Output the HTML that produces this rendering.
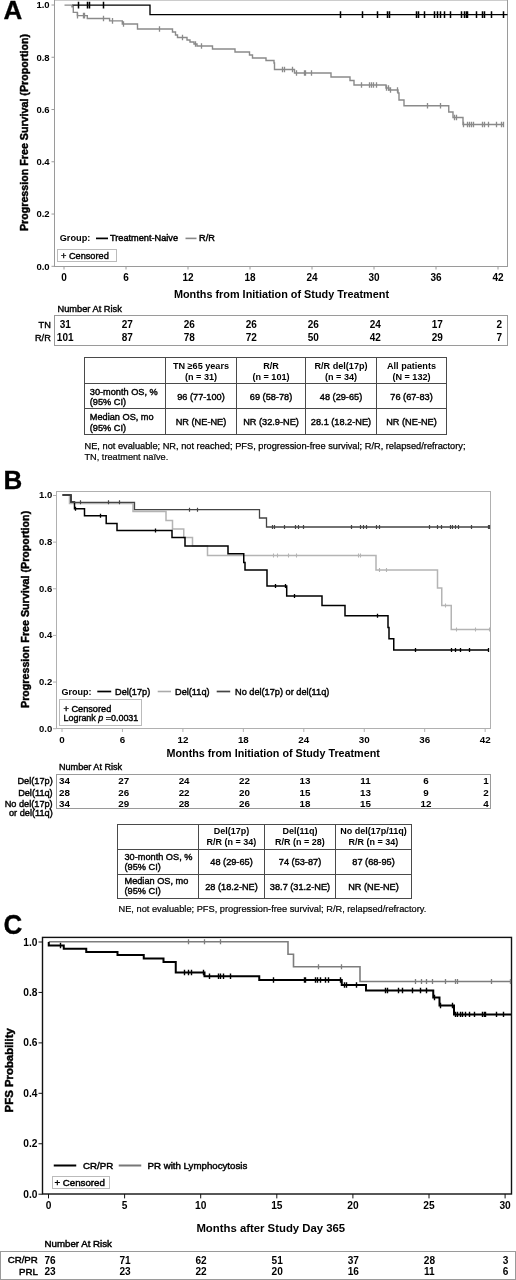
<!DOCTYPE html>
<html><head><meta charset="utf-8"><title>Figure</title>
<style>html,body{margin:0;padding:0;background:#fff;overflow:hidden;width:516px;height:1280px}svg{display:block}text{font-family:'Liberation Sans', Arial, Helvetica, sans-serif}</style>
</head><body>
<svg width="516" height="1280" viewBox="0 0 516 1280">
<rect x="0" y="0" width="516" height="1280" fill="#fff"/>
<text x="0" y="0" font-size="26" font-weight="bold" text-anchor="start" fill="#000" transform="translate(3.4,18.7) scale(1,1.02)" stroke="#000" stroke-width="0.3">A</text>
<rect x="54.5" y="0" width="453" height="266.5" stroke="#9a9a9a" stroke-width="1" fill="none"/>
<line x1="51.5" y1="266.3" x2="54.5" y2="266.3" stroke="#9a9a9a" stroke-width="1" />
<text x="49.6" y="269.7" font-size="9.5" font-weight="bold" text-anchor="end" fill="#000" >0.0</text>
<line x1="51.5" y1="214.04000000000002" x2="54.5" y2="214.04000000000002" stroke="#9a9a9a" stroke-width="1" />
<text x="49.6" y="217.44000000000003" font-size="9.5" font-weight="bold" text-anchor="end" fill="#000" >0.2</text>
<line x1="51.5" y1="161.78" x2="54.5" y2="161.78" stroke="#9a9a9a" stroke-width="1" />
<text x="49.6" y="165.18" font-size="9.5" font-weight="bold" text-anchor="end" fill="#000" >0.4</text>
<line x1="51.5" y1="109.52000000000001" x2="54.5" y2="109.52000000000001" stroke="#9a9a9a" stroke-width="1" />
<text x="49.6" y="112.92000000000002" font-size="9.5" font-weight="bold" text-anchor="end" fill="#000" >0.6</text>
<line x1="51.5" y1="57.25999999999999" x2="54.5" y2="57.25999999999999" stroke="#9a9a9a" stroke-width="1" />
<text x="49.6" y="60.65999999999999" font-size="9.5" font-weight="bold" text-anchor="end" fill="#000" >0.8</text>
<line x1="51.5" y1="5.0" x2="54.5" y2="5.0" stroke="#9a9a9a" stroke-width="1" />
<text x="49.6" y="8.4" font-size="9.5" font-weight="bold" text-anchor="end" fill="#000" >1.0</text>
<line x1="64.0" y1="266.5" x2="64.0" y2="269.5" stroke="#9a9a9a" stroke-width="1" />
<text x="64.0" y="280.6" font-size="10" font-weight="bold" text-anchor="middle" fill="#000" >0</text>
<line x1="126.0" y1="266.5" x2="126.0" y2="269.5" stroke="#9a9a9a" stroke-width="1" />
<text x="126.0" y="280.6" font-size="10" font-weight="bold" text-anchor="middle" fill="#000" >6</text>
<line x1="188.0" y1="266.5" x2="188.0" y2="269.5" stroke="#9a9a9a" stroke-width="1" />
<text x="188.0" y="280.6" font-size="10" font-weight="bold" text-anchor="middle" fill="#000" >12</text>
<line x1="250.0" y1="266.5" x2="250.0" y2="269.5" stroke="#9a9a9a" stroke-width="1" />
<text x="250.0" y="280.6" font-size="10" font-weight="bold" text-anchor="middle" fill="#000" >18</text>
<line x1="312.0" y1="266.5" x2="312.0" y2="269.5" stroke="#9a9a9a" stroke-width="1" />
<text x="312.0" y="280.6" font-size="10" font-weight="bold" text-anchor="middle" fill="#000" >24</text>
<line x1="374.0" y1="266.5" x2="374.0" y2="269.5" stroke="#9a9a9a" stroke-width="1" />
<text x="374.0" y="280.6" font-size="10" font-weight="bold" text-anchor="middle" fill="#000" >30</text>
<line x1="436.0" y1="266.5" x2="436.0" y2="269.5" stroke="#9a9a9a" stroke-width="1" />
<text x="436.0" y="280.6" font-size="10" font-weight="bold" text-anchor="middle" fill="#000" >36</text>
<line x1="498.0" y1="266.5" x2="498.0" y2="269.5" stroke="#9a9a9a" stroke-width="1" />
<text x="498.0" y="280.6" font-size="10" font-weight="bold" text-anchor="middle" fill="#000" >42</text>
<text x="0" y="0" font-size="10.7" font-weight="bold" text-anchor="middle" fill="#000" transform="translate(28,132.5) rotate(-90)" stroke="#000" stroke-width="0.45">Progression Free Survival (Proportion)</text>
<text x="281.5" y="298.3" font-size="10.85" font-weight="bold" text-anchor="middle" fill="#000" >Months from Initiation of Study Treatment</text>
<text x="59.7" y="241.4" font-size="9.2" font-weight="bold" text-anchor="start" fill="#000" >Group:</text>
<line x1="96" y1="238.4" x2="108" y2="238.4" stroke="#000" stroke-width="1.7" />
<text x="110" y="241.4" font-size="9.2" font-weight="normal" text-anchor="start" fill="#000" stroke="#000" stroke-width="0.45">Treatment-Naive</text>
<line x1="185.5" y1="238.4" x2="196.5" y2="238.4" stroke="#888" stroke-width="1.6" />
<text x="199" y="241.4" font-size="9.2" font-weight="normal" text-anchor="start" fill="#000" stroke="#000" stroke-width="0.45">R/R</text>
<rect x="57.5" y="249.5" width="59" height="12" stroke="#bbb" stroke-width="1" fill="none"/>
<text x="61" y="259" font-size="9.2" font-weight="normal" text-anchor="start" fill="#000" stroke="#000" stroke-width="0.4">+ Censored</text>
<path d="M72 5.1 H150 V14.6 H507.5" fill="none" stroke="#000" stroke-width="1.35" stroke-linejoin="miter"/>
<path d="M78.5 1.7999999999999998V8.399999999999999M87.5 1.7999999999999998V8.399999999999999M89.5 1.7999999999999998V8.399999999999999M103.5 1.7999999999999998V8.399999999999999" fill="none" stroke="#000" stroke-width="1.5"/>
<path d="M340.5 11.3V17.9M362.5 11.3V17.9M377.5 11.3V17.9M387.5 11.3V17.9M389.5 11.3V17.9M416.5 11.3V17.9M418.5 11.3V17.9M424.5 11.3V17.9M434.5 11.3V17.9M437.5 11.3V17.9M440.5 11.3V17.9M444.5 11.3V17.9M450.5 11.3V17.9M461.5 11.3V17.9M464.5 11.3V17.9M466.5 11.3V17.9M467.5 11.3V17.9M476.5 11.3V17.9M482.5 11.3V17.9M484.5 11.3V17.9M491.5 11.3V17.9M503.5 11.3V17.9" fill="none" stroke="#000" stroke-width="1.5"/>
<path d="M64.5 5.1 H72 V6.8 H73.3 V12.4 H77.4 V15.6 H87.3 V18.5 H109.6 V20.9 H122.3 V24 H137.5 V29 H172.5 V32 H175.5 V35 H177.5 V37.5 H187 V40 H190 V42 H194 V44 H197 V46 H212.5 V49 H235 V52 H249.5 V55 H252.5 V58 H266 V60.5 H274 V63 H274.5 V69.5 H294.5 V73 H331 V77 H350 V80.5 H354 V85 H386 V88 H389 V90 H398 V93 H399 V100 H404 V105.75 H448.75 V112 H453 V117.5 H463 V124.5 H503" fill="none" stroke="#8a8a8a" stroke-width="1.4" stroke-linejoin="miter"/>
<path d="M77.5 12.8V18.4M83.5 12.8V18.4M84.5 12.8V18.4M103.5 15.7V21.3M112.5 18.099999999999998V23.7M123.5 21.2V26.8M159.5 26.2V31.8M182.5 34.7V40.3M195.5 41.2V46.8M201.5 43.2V48.8M282.5 66.7V72.3M284.5 66.7V72.3M292.5 66.7V72.3M296.5 70.2V75.8M304.5 70.2V75.8M305.5 70.2V75.8M311.5 70.2V75.8M361.5 82.2V87.8M369.5 82.2V87.8M371.5 82.2V87.8M373.5 82.2V87.8M376.5 82.2V87.8M386.5 85.2V90.8M388.5 85.2V90.8M390.5 87.2V92.8M397.5 87.2V92.8M427.5 102.95V108.55M440.5 102.95V108.55M454.5 114.7V120.3M456.5 114.7V120.3M463.5 121.7V127.3M467.5 121.7V127.3M469.5 121.7V127.3M471.5 121.7V127.3M473.5 121.7V127.3M482.5 121.7V127.3M484.5 121.7V127.3M488.5 121.7V127.3M496.5 121.7V127.3M501.5 121.7V127.3M503.5 121.7V127.3" fill="none" stroke="#8a8a8a" stroke-width="1.3"/>
<text x="57.5" y="311.7" font-size="9.25" font-weight="normal" text-anchor="start" fill="#000" stroke="#000" stroke-width="0.4">Number At Risk</text>
<rect x="54.5" y="315.5" width="453" height="30" stroke="#9a9a9a" stroke-width="1" fill="none"/>
<text x="50.8" y="328" font-size="9.2" font-weight="normal" text-anchor="end" fill="#000" stroke="#000" stroke-width="0.4">TN</text>
<text x="50.8" y="340.7" font-size="9.2" font-weight="normal" text-anchor="end" fill="#000" stroke="#000" stroke-width="0.4">R/R</text>
<text x="65.2" y="328.1" font-size="10" font-weight="bold" text-anchor="middle" fill="#000" >31</text>
<text x="65.2" y="340.6" font-size="10" font-weight="bold" text-anchor="middle" fill="#000" >101</text>
<text x="127.2" y="328.1" font-size="10" font-weight="bold" text-anchor="middle" fill="#000" >27</text>
<text x="127.2" y="340.6" font-size="10" font-weight="bold" text-anchor="middle" fill="#000" >87</text>
<text x="189.2" y="328.1" font-size="10" font-weight="bold" text-anchor="middle" fill="#000" >26</text>
<text x="189.2" y="340.6" font-size="10" font-weight="bold" text-anchor="middle" fill="#000" >78</text>
<text x="251.2" y="328.1" font-size="10" font-weight="bold" text-anchor="middle" fill="#000" >26</text>
<text x="251.2" y="340.6" font-size="10" font-weight="bold" text-anchor="middle" fill="#000" >72</text>
<text x="313.2" y="328.1" font-size="10" font-weight="bold" text-anchor="middle" fill="#000" >26</text>
<text x="313.2" y="340.6" font-size="10" font-weight="bold" text-anchor="middle" fill="#000" >50</text>
<text x="375.2" y="328.1" font-size="10" font-weight="bold" text-anchor="middle" fill="#000" >24</text>
<text x="375.2" y="340.6" font-size="10" font-weight="bold" text-anchor="middle" fill="#000" >42</text>
<text x="437.2" y="328.1" font-size="10" font-weight="bold" text-anchor="middle" fill="#000" >17</text>
<text x="437.2" y="340.6" font-size="10" font-weight="bold" text-anchor="middle" fill="#000" >29</text>
<text x="499.2" y="328.1" font-size="10" font-weight="bold" text-anchor="middle" fill="#000" >2</text>
<text x="499.2" y="340.6" font-size="10" font-weight="bold" text-anchor="middle" fill="#000" >7</text>
<line x1="84.5" y1="357.5" x2="84.5" y2="434.5" stroke="#4a4a4a" stroke-width="1" />
<line x1="165.5" y1="357.5" x2="165.5" y2="434.5" stroke="#4a4a4a" stroke-width="1" />
<line x1="236.5" y1="357.5" x2="236.5" y2="434.5" stroke="#4a4a4a" stroke-width="1" />
<line x1="305.5" y1="357.5" x2="305.5" y2="434.5" stroke="#4a4a4a" stroke-width="1" />
<line x1="376.5" y1="357.5" x2="376.5" y2="434.5" stroke="#4a4a4a" stroke-width="1" />
<line x1="446.5" y1="357.5" x2="446.5" y2="434.5" stroke="#4a4a4a" stroke-width="1" />
<line x1="84.0" y1="357.5" x2="447.0" y2="357.5" stroke="#4a4a4a" stroke-width="1" />
<line x1="84.0" y1="383.5" x2="447.0" y2="383.5" stroke="#4a4a4a" stroke-width="1" />
<line x1="84.0" y1="408.5" x2="447.0" y2="408.5" stroke="#4a4a4a" stroke-width="1" />
<line x1="84.0" y1="434.5" x2="447.0" y2="434.5" stroke="#4a4a4a" stroke-width="1" />
<text x="201.0" y="368.6" font-size="9.1" font-weight="bold" text-anchor="middle" fill="#000" >TN ≥65 years</text>
<text x="201.0" y="379.6" font-size="9.1" font-weight="bold" text-anchor="middle" fill="#000" >(n = 31)</text>
<text x="271.0" y="368.6" font-size="9.1" font-weight="bold" text-anchor="middle" fill="#000" >R/R</text>
<text x="271.0" y="379.6" font-size="9.1" font-weight="bold" text-anchor="middle" fill="#000" >(n = 101)</text>
<text x="341.0" y="368.6" font-size="9.1" font-weight="bold" text-anchor="middle" fill="#000" >R/R del(17p)</text>
<text x="341.0" y="379.6" font-size="9.1" font-weight="bold" text-anchor="middle" fill="#000" >(n = 34)</text>
<text x="411.5" y="368.6" font-size="9.1" font-weight="bold" text-anchor="middle" fill="#000" >All patients</text>
<text x="411.5" y="379.6" font-size="9.1" font-weight="bold" text-anchor="middle" fill="#000" >(N = 132)</text>
<text x="89.8" y="394.6" font-size="9.2" font-weight="normal" text-anchor="start" fill="#000" stroke="#000" stroke-width="0.4">30-month OS, %</text>
<text x="89.8" y="405" font-size="9.2" font-weight="normal" text-anchor="start" fill="#000" stroke="#000" stroke-width="0.4">(95% CI)</text>
<text x="89.8" y="420" font-size="9.2" font-weight="normal" text-anchor="start" fill="#000" stroke="#000" stroke-width="0.4">Median OS, mo</text>
<text x="89.8" y="430.6" font-size="9.2" font-weight="normal" text-anchor="start" fill="#000" stroke="#000" stroke-width="0.4">(95% CI)</text>
<text x="201.0" y="399.9" font-size="9.2" font-weight="normal" text-anchor="middle" fill="#000" stroke="#000" stroke-width="0.4">96 (77-100)</text>
<text x="201.0" y="425.2" font-size="9.2" font-weight="normal" text-anchor="middle" fill="#000" stroke="#000" stroke-width="0.4">NR (NE-NE)</text>
<text x="271.0" y="399.9" font-size="9.2" font-weight="normal" text-anchor="middle" fill="#000" stroke="#000" stroke-width="0.4">69 (58-78)</text>
<text x="271.0" y="425.2" font-size="9.2" font-weight="normal" text-anchor="middle" fill="#000" stroke="#000" stroke-width="0.4">NR (32.9-NE)</text>
<text x="341.0" y="399.9" font-size="9.2" font-weight="normal" text-anchor="middle" fill="#000" stroke="#000" stroke-width="0.4">48 (29-65)</text>
<text x="341.0" y="425.2" font-size="9.2" font-weight="normal" text-anchor="middle" fill="#000" stroke="#000" stroke-width="0.4">28.1 (18.2-NE)</text>
<text x="411.5" y="399.9" font-size="9.2" font-weight="normal" text-anchor="middle" fill="#000" stroke="#000" stroke-width="0.4">76 (67-83)</text>
<text x="411.5" y="425.2" font-size="9.2" font-weight="normal" text-anchor="middle" fill="#000" stroke="#000" stroke-width="0.4">NR (NE-NE)</text>
<text x="84.5" y="449" font-size="9.25" font-weight="normal" text-anchor="start" fill="#000" stroke="#000" stroke-width="0.25">NE, not evaluable; NR, not reached; PFS, progression-free survival; R/R, relapsed/refractory;</text>
<text x="84.5" y="460" font-size="9.2" font-weight="normal" text-anchor="start" fill="#000" stroke="#000" stroke-width="0.2">TN, treatment naïve.</text>
<text x="0" y="0" font-size="26" font-weight="bold" text-anchor="start" fill="#000" transform="translate(3.4,489.3) scale(1,1.02)" stroke="#000" stroke-width="0.3">B</text>
<rect x="56.5" y="491.5" width="434" height="237" stroke="#b0b0b0" stroke-width="1" fill="none"/>
<line x1="53" y1="728.7" x2="56.5" y2="728.7" stroke="#b0b0b0" stroke-width="1" />
<text x="52.3" y="731.6" font-size="9.5" font-weight="bold" text-anchor="end" fill="#000" >0.0</text>
<line x1="53" y1="682.0600000000001" x2="56.5" y2="682.0600000000001" stroke="#b0b0b0" stroke-width="1" />
<text x="52.3" y="684.96" font-size="9.5" font-weight="bold" text-anchor="end" fill="#000" >0.2</text>
<line x1="53" y1="635.4200000000001" x2="56.5" y2="635.4200000000001" stroke="#b0b0b0" stroke-width="1" />
<text x="52.3" y="638.32" font-size="9.5" font-weight="bold" text-anchor="end" fill="#000" >0.4</text>
<line x1="53" y1="588.7800000000001" x2="56.5" y2="588.7800000000001" stroke="#b0b0b0" stroke-width="1" />
<text x="52.3" y="591.6800000000001" font-size="9.5" font-weight="bold" text-anchor="end" fill="#000" >0.6</text>
<line x1="53" y1="542.1400000000001" x2="56.5" y2="542.1400000000001" stroke="#b0b0b0" stroke-width="1" />
<text x="52.3" y="545.0400000000001" font-size="9.5" font-weight="bold" text-anchor="end" fill="#000" >0.8</text>
<line x1="53" y1="495.50000000000006" x2="56.5" y2="495.50000000000006" stroke="#b0b0b0" stroke-width="1" />
<text x="52.3" y="498.40000000000003" font-size="9.5" font-weight="bold" text-anchor="end" fill="#000" >1.0</text>
<line x1="62.0" y1="728.5" x2="62.0" y2="732" stroke="#b0b0b0" stroke-width="1" />
<text x="62.0" y="742.7" font-size="9.8" font-weight="bold" text-anchor="middle" fill="#000" >0</text>
<line x1="122.45000000000002" y1="728.5" x2="122.45000000000002" y2="732" stroke="#b0b0b0" stroke-width="1" />
<text x="122.45000000000002" y="742.7" font-size="9.8" font-weight="bold" text-anchor="middle" fill="#000" >6</text>
<line x1="182.90000000000003" y1="728.5" x2="182.90000000000003" y2="732" stroke="#b0b0b0" stroke-width="1" />
<text x="182.90000000000003" y="742.7" font-size="9.8" font-weight="bold" text-anchor="middle" fill="#000" >12</text>
<line x1="243.35000000000002" y1="728.5" x2="243.35000000000002" y2="732" stroke="#b0b0b0" stroke-width="1" />
<text x="243.35000000000002" y="742.7" font-size="9.8" font-weight="bold" text-anchor="middle" fill="#000" >18</text>
<line x1="303.80000000000007" y1="728.5" x2="303.80000000000007" y2="732" stroke="#b0b0b0" stroke-width="1" />
<text x="303.80000000000007" y="742.7" font-size="9.8" font-weight="bold" text-anchor="middle" fill="#000" >24</text>
<line x1="364.25" y1="728.5" x2="364.25" y2="732" stroke="#b0b0b0" stroke-width="1" />
<text x="364.25" y="742.7" font-size="9.8" font-weight="bold" text-anchor="middle" fill="#000" >30</text>
<line x1="424.70000000000005" y1="728.5" x2="424.70000000000005" y2="732" stroke="#b0b0b0" stroke-width="1" />
<text x="424.70000000000005" y="742.7" font-size="9.8" font-weight="bold" text-anchor="middle" fill="#000" >36</text>
<line x1="485.15000000000003" y1="728.5" x2="485.15000000000003" y2="732" stroke="#b0b0b0" stroke-width="1" />
<text x="485.15000000000003" y="742.7" font-size="9.8" font-weight="bold" text-anchor="middle" fill="#000" >42</text>
<text x="0" y="0" font-size="10.7" font-weight="bold" text-anchor="middle" fill="#000" transform="translate(29.4,609.4) rotate(-90)" stroke="#000" stroke-width="0.45">Progression Free Survival (Proportion)</text>
<text x="273.2" y="757.3" font-size="10.75" font-weight="bold" text-anchor="middle" fill="#000" >Months from Initiation of Study Treatment</text>
<text x="61.5" y="694.8" font-size="9" font-weight="bold" text-anchor="start" fill="#000" >Group:</text>
<line x1="97.3" y1="691.5" x2="111.2" y2="691.5" stroke="#000" stroke-width="1.7" />
<text x="115" y="694.8" font-size="9.2" font-weight="normal" text-anchor="start" fill="#000" stroke="#000" stroke-width="0.4">Del(17p)</text>
<line x1="157.7" y1="691.5" x2="171" y2="691.5" stroke="#aaa" stroke-width="1.6" />
<text x="175" y="694.8" font-size="9.2" font-weight="normal" text-anchor="start" fill="#000" stroke="#000" stroke-width="0.4">Del(11q)</text>
<line x1="216.7" y1="691.5" x2="230.2" y2="691.5" stroke="#444" stroke-width="1.7" />
<text x="235" y="694.8" font-size="9.2" font-weight="normal" text-anchor="start" fill="#000" stroke="#000" stroke-width="0.4">No del(17p) or del(11q)</text>
<rect x="59.5" y="699.5" width="82" height="26" stroke="#bbb" stroke-width="1" fill="none"/>
<text x="63.5" y="711.5" font-size="9.2" font-weight="normal" text-anchor="start" fill="#000" stroke="#000" stroke-width="0.4">+ Censored</text>
<text x="63.5" y="720.8" font-size="8.95" font-weight="normal" text-anchor="start" fill="#000" stroke="#000" stroke-width="0.4">Logrank <tspan font-style="italic">p</tspan> =0.0031</text>
<path d="M62.5 495 H69.5 V503.5 H133 V511.5 H166 V520.5 H172.5 V529 H183.75 V537.5 H192.5 V546 H207.5 V555.5 H376 V570 H437.5 V588 H441.75 V605.5 H451.25 V629.5 H490" fill="none" stroke="#b4b4b4" stroke-width="1.5" stroke-linejoin="miter"/>
<path d="M273.5 553.5V557.5M277.5 553.5V557.5M288.5 553.5V557.5M296.5 553.5V557.5M358.5 553.5V557.5M360.5 553.5V557.5M379.5 568V572M386.5 568V572M445.5 603.5V607.5M456.5 627.5V631.5M475.5 627.5V631.5M489.5 627.5V631.5" fill="none" stroke="#b4b4b4" stroke-width="1.1"/>
<path d="M62.5 495 H71 V502 H74.5 V508.75 H84.5 V515.7 H106.2 V523.6 H117 V530.4 H172 V537.5 H185 V546 H228 V553.75 H243.75 V562.5 H245 V570 H267 V585.9 H286.7 V596 H322 V605.5 H345 V615.75 H388 V627.5 H389 V638.75 H393.75 V650 H489" fill="none" stroke="#000" stroke-width="1.5" stroke-linejoin="miter"/>
<path d="M75.5 506.75V510.75M100.5 513.7V517.7M155.5 528.4V532.4M275.5 583.9V587.9M285.5 583.9V587.9M294.5 594.0V598.0M377.5 613.75V617.75M415.5 648.0V652.0M451.5 648.0V652.0M455.5 648.0V652.0M460.5 648.0V652.0M469.5 648.0V652.0M488.5 648.0V652.0" fill="none" stroke="#000" stroke-width="1.3"/>
<path d="M62.5 495 H71 V502.3 H134.5 V509.7 H259.5 V518 H266.5 V527 H489.5" fill="none" stroke="#444" stroke-width="1.3" stroke-linejoin="miter"/>
<path d="M80.5 500.3V504.3M108.5 500.3V504.3M119.5 500.3V504.3M189.5 507.7V511.7M197.5 507.7V511.7M272.5 525V529M274.5 525V529M284.5 525V529M295.5 525V529M298.5 525V529M303.5 525V529M351.5 525V529M360.5 525V529M363.5 525V529M366.5 525V529M376.5 525V529M379.5 525V529M429.5 525V529M437.5 525V529M441.5 525V529M450.5 525V529M452.5 525V529M455.5 525V529M458.5 525V529M471.5 525V529M488.5 525V529M489.5 525V529" fill="none" stroke="#444" stroke-width="1.2"/>
<text x="59" y="770.2" font-size="9.1" font-weight="normal" text-anchor="start" fill="#000" stroke="#000" stroke-width="0.4">Number At Risk</text>
<rect x="56.5" y="774.5" width="434" height="34" stroke="#9a9a9a" stroke-width="1" fill="none"/>
<text x="52.7" y="784.3" font-size="9.2" font-weight="normal" text-anchor="end" fill="#000" stroke="#000" stroke-width="0.4">Del(17p)</text>
<text x="52.7" y="795.5" font-size="9.2" font-weight="normal" text-anchor="end" fill="#000" stroke="#000" stroke-width="0.4">Del(11q)</text>
<text x="52.7" y="807" font-size="9.2" font-weight="normal" text-anchor="end" fill="#000" stroke="#000" stroke-width="0.4">No del(17p)</text>
<text x="52.7" y="815.5" font-size="9.2" font-weight="normal" text-anchor="end" fill="#000" stroke="#000" stroke-width="0.4">or del(11q)</text>
<text x="59" y="784.3" font-size="9.8" font-weight="bold" text-anchor="start" fill="#000" >34</text>
<text x="123.65000000000002" y="784.3" font-size="9.8" font-weight="bold" text-anchor="middle" fill="#000" >27</text>
<text x="184.10000000000002" y="784.3" font-size="9.8" font-weight="bold" text-anchor="middle" fill="#000" >24</text>
<text x="244.55" y="784.3" font-size="9.8" font-weight="bold" text-anchor="middle" fill="#000" >22</text>
<text x="305.00000000000006" y="784.3" font-size="9.8" font-weight="bold" text-anchor="middle" fill="#000" >13</text>
<text x="365.45" y="784.3" font-size="9.8" font-weight="bold" text-anchor="middle" fill="#000" >11</text>
<text x="425.90000000000003" y="784.3" font-size="9.8" font-weight="bold" text-anchor="middle" fill="#000" >6</text>
<text x="488.7" y="784.3" font-size="9.8" font-weight="bold" text-anchor="end" fill="#000" >1</text>
<text x="59" y="795.5" font-size="9.8" font-weight="bold" text-anchor="start" fill="#000" >28</text>
<text x="123.65000000000002" y="795.5" font-size="9.8" font-weight="bold" text-anchor="middle" fill="#000" >26</text>
<text x="184.10000000000002" y="795.5" font-size="9.8" font-weight="bold" text-anchor="middle" fill="#000" >22</text>
<text x="244.55" y="795.5" font-size="9.8" font-weight="bold" text-anchor="middle" fill="#000" >20</text>
<text x="305.00000000000006" y="795.5" font-size="9.8" font-weight="bold" text-anchor="middle" fill="#000" >15</text>
<text x="365.45" y="795.5" font-size="9.8" font-weight="bold" text-anchor="middle" fill="#000" >13</text>
<text x="425.90000000000003" y="795.5" font-size="9.8" font-weight="bold" text-anchor="middle" fill="#000" >9</text>
<text x="488.7" y="795.5" font-size="9.8" font-weight="bold" text-anchor="end" fill="#000" >2</text>
<text x="59" y="807" font-size="9.8" font-weight="bold" text-anchor="start" fill="#000" >34</text>
<text x="123.65000000000002" y="807" font-size="9.8" font-weight="bold" text-anchor="middle" fill="#000" >29</text>
<text x="184.10000000000002" y="807" font-size="9.8" font-weight="bold" text-anchor="middle" fill="#000" >28</text>
<text x="244.55" y="807" font-size="9.8" font-weight="bold" text-anchor="middle" fill="#000" >26</text>
<text x="305.00000000000006" y="807" font-size="9.8" font-weight="bold" text-anchor="middle" fill="#000" >18</text>
<text x="365.45" y="807" font-size="9.8" font-weight="bold" text-anchor="middle" fill="#000" >15</text>
<text x="425.90000000000003" y="807" font-size="9.8" font-weight="bold" text-anchor="middle" fill="#000" >12</text>
<text x="488.7" y="807" font-size="9.8" font-weight="bold" text-anchor="end" fill="#000" >4</text>
<line x1="117.5" y1="824.5" x2="117.5" y2="898.5" stroke="#4a4a4a" stroke-width="1" />
<line x1="198.5" y1="824.5" x2="198.5" y2="898.5" stroke="#4a4a4a" stroke-width="1" />
<line x1="264.5" y1="824.5" x2="264.5" y2="898.5" stroke="#4a4a4a" stroke-width="1" />
<line x1="335.5" y1="824.5" x2="335.5" y2="898.5" stroke="#4a4a4a" stroke-width="1" />
<line x1="411.5" y1="824.5" x2="411.5" y2="898.5" stroke="#4a4a4a" stroke-width="1" />
<line x1="117.0" y1="824.5" x2="412.0" y2="824.5" stroke="#4a4a4a" stroke-width="1" />
<line x1="117.0" y1="849.5" x2="412.0" y2="849.5" stroke="#4a4a4a" stroke-width="1" />
<line x1="117.0" y1="874.5" x2="412.0" y2="874.5" stroke="#4a4a4a" stroke-width="1" />
<line x1="117.0" y1="898.5" x2="412.0" y2="898.5" stroke="#4a4a4a" stroke-width="1" />
<text x="231.5" y="834" font-size="9.0" font-weight="bold" text-anchor="middle" fill="#000" >Del(17p)</text>
<text x="231.5" y="845.2" font-size="9.0" font-weight="bold" text-anchor="middle" fill="#000" >R/R (n = 34)</text>
<text x="300.0" y="834" font-size="9.0" font-weight="bold" text-anchor="middle" fill="#000" >Del(11q)</text>
<text x="300.0" y="845.2" font-size="9.0" font-weight="bold" text-anchor="middle" fill="#000" >R/R (n = 28)</text>
<text x="373.5" y="834" font-size="9.0" font-weight="bold" text-anchor="middle" fill="#000" >No del(17p/11q)</text>
<text x="373.5" y="845.2" font-size="9.0" font-weight="bold" text-anchor="middle" fill="#000" >R/R (n = 34)</text>
<text x="124.5" y="860" font-size="9.2" font-weight="normal" text-anchor="start" fill="#000" stroke="#000" stroke-width="0.4">30-month OS, %</text>
<text x="124.5" y="870.3" font-size="9.2" font-weight="normal" text-anchor="start" fill="#000" stroke="#000" stroke-width="0.4">(95% CI)</text>
<text x="124.5" y="884.3" font-size="9.2" font-weight="normal" text-anchor="start" fill="#000" stroke="#000" stroke-width="0.4">Median OS, mo</text>
<text x="124.5" y="894" font-size="9.2" font-weight="normal" text-anchor="start" fill="#000" stroke="#000" stroke-width="0.4">(95% CI)</text>
<text x="231.5" y="865" font-size="9.2" font-weight="normal" text-anchor="middle" fill="#000" stroke="#000" stroke-width="0.4">48 (29-65)</text>
<text x="231.5" y="890" font-size="9.2" font-weight="normal" text-anchor="middle" fill="#000" stroke="#000" stroke-width="0.4">28 (18.2-NE)</text>
<text x="300.0" y="865" font-size="9.2" font-weight="normal" text-anchor="middle" fill="#000" stroke="#000" stroke-width="0.4">74 (53-87)</text>
<text x="300.0" y="890" font-size="9.2" font-weight="normal" text-anchor="middle" fill="#000" stroke="#000" stroke-width="0.4">38.7 (31.2-NE)</text>
<text x="373.5" y="865" font-size="9.2" font-weight="normal" text-anchor="middle" fill="#000" stroke="#000" stroke-width="0.4">87 (68-95)</text>
<text x="373.5" y="890" font-size="9.2" font-weight="normal" text-anchor="middle" fill="#000" stroke="#000" stroke-width="0.4">NR (NE-NE)</text>
<text x="118.5" y="912" font-size="9.25" font-weight="normal" text-anchor="start" fill="#000" stroke="#000" stroke-width="0.2">NE, not evaluable; PFS, progression-free survival; R/R, relapsed/refractory.</text>
<text x="0" y="0" font-size="26" font-weight="bold" text-anchor="start" fill="#000" transform="translate(3.5,933.5) scale(1,1.07)" stroke="#000" stroke-width="0.3">C</text>
<rect x="42.5" y="937.4" width="469" height="256.6" stroke="#111" stroke-width="1.4" fill="none"/>
<line x1="38.5" y1="1194.2" x2="42.5" y2="1194.2" stroke="#111" stroke-width="1" />
<text x="37.4" y="1197.7" font-size="10.2" font-weight="bold" text-anchor="end" fill="#000" >0.0</text>
<line x1="38.5" y1="1143.76" x2="42.5" y2="1143.76" stroke="#111" stroke-width="1" />
<text x="37.4" y="1147.26" font-size="10.2" font-weight="bold" text-anchor="end" fill="#000" >0.2</text>
<line x1="38.5" y1="1093.3200000000002" x2="42.5" y2="1093.3200000000002" stroke="#111" stroke-width="1" />
<text x="37.4" y="1096.8200000000002" font-size="10.2" font-weight="bold" text-anchor="end" fill="#000" >0.4</text>
<line x1="38.5" y1="1042.88" x2="42.5" y2="1042.88" stroke="#111" stroke-width="1" />
<text x="37.4" y="1046.38" font-size="10.2" font-weight="bold" text-anchor="end" fill="#000" >0.6</text>
<line x1="38.5" y1="992.44" x2="42.5" y2="992.44" stroke="#111" stroke-width="1" />
<text x="37.4" y="995.94" font-size="10.2" font-weight="bold" text-anchor="end" fill="#000" >0.8</text>
<line x1="38.5" y1="942.0" x2="42.5" y2="942.0" stroke="#111" stroke-width="1" />
<text x="37.4" y="945.5" font-size="10.2" font-weight="bold" text-anchor="end" fill="#000" >1.0</text>
<line x1="48.5" y1="1194" x2="48.5" y2="1198.4" stroke="#111" stroke-width="1" />
<text x="48.5" y="1208.6" font-size="10.2" font-weight="bold" text-anchor="middle" fill="#000" >0</text>
<line x1="124.6" y1="1194" x2="124.6" y2="1198.4" stroke="#111" stroke-width="1" />
<text x="124.6" y="1208.6" font-size="10.2" font-weight="bold" text-anchor="middle" fill="#000" >5</text>
<line x1="200.7" y1="1194" x2="200.7" y2="1198.4" stroke="#111" stroke-width="1" />
<text x="200.7" y="1208.6" font-size="10.2" font-weight="bold" text-anchor="middle" fill="#000" >10</text>
<line x1="276.8" y1="1194" x2="276.8" y2="1198.4" stroke="#111" stroke-width="1" />
<text x="276.8" y="1208.6" font-size="10.2" font-weight="bold" text-anchor="middle" fill="#000" >15</text>
<line x1="352.9" y1="1194" x2="352.9" y2="1198.4" stroke="#111" stroke-width="1" />
<text x="352.9" y="1208.6" font-size="10.2" font-weight="bold" text-anchor="middle" fill="#000" >20</text>
<line x1="428.99999999999994" y1="1194" x2="428.99999999999994" y2="1198.4" stroke="#111" stroke-width="1" />
<text x="428.99999999999994" y="1208.6" font-size="10.2" font-weight="bold" text-anchor="middle" fill="#000" >25</text>
<line x1="505.1" y1="1194" x2="505.1" y2="1198.4" stroke="#111" stroke-width="1" />
<text x="505.1" y="1208.6" font-size="10.2" font-weight="bold" text-anchor="middle" fill="#000" >30</text>
<text x="0" y="0" font-size="11.4" font-weight="bold" text-anchor="middle" fill="#000" transform="translate(12.5,1070.3) rotate(-90)" stroke="#000" stroke-width="0.45">PFS Probability</text>
<text x="270.8" y="1231.5" font-size="11.35" font-weight="bold" text-anchor="middle" fill="#000" >Months after Study Day 365</text>
<line x1="53.75" y1="1165.5" x2="76.25" y2="1165.5" stroke="#000" stroke-width="2" />
<text x="83" y="1168.8" font-size="9.7" font-weight="normal" text-anchor="start" fill="#000" stroke="#000" stroke-width="0.45">CR/PR</text>
<line x1="118.75" y1="1165.5" x2="141.25" y2="1165.5" stroke="#777" stroke-width="2" />
<text x="147.5" y="1168.8" font-size="9.7" font-weight="normal" text-anchor="start" fill="#000" stroke="#000" stroke-width="0.45">PR with Lymphocytosis</text>
<rect x="52.5" y="1176.5" width="57" height="12" stroke="#bbb" stroke-width="1" fill="none"/>
<text x="54.5" y="1186" font-size="9.7" font-weight="normal" text-anchor="start" fill="#000" stroke="#000" stroke-width="0.45">+ Censored</text>
<path d="M48.75 941.75 H288 V954.25 H293.5 V966.75 H360 V981.5 H511" fill="none" stroke="#7d7d7d" stroke-width="1.6" stroke-linejoin="miter"/>
<path d="M188.5 939.35V944.15M204.5 939.35V944.15M220.5 939.35V944.15M318.5 964.35V969.15M341.5 964.35V969.15M415.5 979.1V983.9M421.5 979.1V983.9M426.5 979.1V983.9M432.5 979.1V983.9M445.5 979.1V983.9M455.5 979.1V983.9M457.5 979.1V983.9M491.5 979.1V983.9M510.5 979.1V983.9" fill="none" stroke="#7d7d7d" stroke-width="1.3"/>
<path d="M48.75 942 H48.75 V945.5 H63.75 V948.75 H86.25 V952 H117.5 V955 H143.75 V958.5 H163.5 V962 H175.75 V972.5 H204.5 V976.25 H259.25 V980 H341.75 V985 H366 V990.5 H433.25 V997.5 H439.5 V1005.5 H454 V1014.4 H511" fill="none" stroke="#000" stroke-width="2.0" stroke-linejoin="miter"/>
<path d="M60.5 942.8V948.2M184.5 969.8V975.2M188.5 969.8V975.2M191.5 969.8V975.2M203.5 969.8V975.2M209.5 973.55V978.95M218.5 973.55V978.95M220.5 973.55V978.95M223.5 973.55V978.95M230.5 973.55V978.95M273.5 977.3V982.7M304.5 977.3V982.7M305.5 977.3V982.7M315.5 977.3V982.7M317.5 977.3V982.7M320.5 977.3V982.7M325.5 977.3V982.7M328.5 977.3V982.7M340.5 977.3V982.7M344.5 982.3V987.7M346.5 982.3V987.7M356.5 982.3V987.7M385.5 987.8V993.2M387.5 987.8V993.2M398.5 987.8V993.2M402.5 987.8V993.2M412.5 987.8V993.2M420.5 987.8V993.2M426.5 987.8V993.2M434.5 994.8V1000.2M440.5 1002.8V1008.2M452.5 1002.8V1008.2M455.5 1011.6999999999999V1017.1M457.5 1011.6999999999999V1017.1M460.5 1011.6999999999999V1017.1M462.5 1011.6999999999999V1017.1M465.5 1011.6999999999999V1017.1M469.5 1011.6999999999999V1017.1M474.5 1011.6999999999999V1017.1M482.5 1011.6999999999999V1017.1M484.5 1011.6999999999999V1017.1M485.5 1011.6999999999999V1017.1M496.5 1011.6999999999999V1017.1M503.5 1011.6999999999999V1017.1" fill="none" stroke="#000" stroke-width="1.4"/>
<text x="44.6" y="1246.9" font-size="9.7" font-weight="normal" text-anchor="start" fill="#000" stroke="#000" stroke-width="0.45">Number At Risk</text>
<rect x="0.5" y="1251.5" width="515" height="28" stroke="#9a9a9a" stroke-width="1" fill="none"/>
<text x="37.8" y="1263.3" font-size="9.7" font-weight="normal" text-anchor="end" fill="#000" stroke="#000" stroke-width="0.45">CR/PR</text>
<text x="37.8" y="1275" font-size="9.7" font-weight="normal" text-anchor="end" fill="#000" stroke="#000" stroke-width="0.45">PRL</text>
<text x="44.4" y="1263.5" font-size="10.1" font-weight="bold" text-anchor="start" fill="#000" >76</text>
<text x="125.0" y="1263.5" font-size="10.1" font-weight="bold" text-anchor="middle" fill="#000" >71</text>
<text x="201.1" y="1263.5" font-size="10.1" font-weight="bold" text-anchor="middle" fill="#000" >62</text>
<text x="277.2" y="1263.5" font-size="10.1" font-weight="bold" text-anchor="middle" fill="#000" >51</text>
<text x="353.29999999999995" y="1263.5" font-size="10.1" font-weight="bold" text-anchor="middle" fill="#000" >37</text>
<text x="429.3999999999999" y="1263.5" font-size="10.1" font-weight="bold" text-anchor="middle" fill="#000" >28</text>
<text x="505.5" y="1263.5" font-size="10.1" font-weight="bold" text-anchor="middle" fill="#000" >3</text>
<text x="44.4" y="1275.2" font-size="10.1" font-weight="bold" text-anchor="start" fill="#000" >23</text>
<text x="125.0" y="1275.2" font-size="10.1" font-weight="bold" text-anchor="middle" fill="#000" >23</text>
<text x="201.1" y="1275.2" font-size="10.1" font-weight="bold" text-anchor="middle" fill="#000" >22</text>
<text x="277.2" y="1275.2" font-size="10.1" font-weight="bold" text-anchor="middle" fill="#000" >20</text>
<text x="353.29999999999995" y="1275.2" font-size="10.1" font-weight="bold" text-anchor="middle" fill="#000" >16</text>
<text x="429.3999999999999" y="1275.2" font-size="10.1" font-weight="bold" text-anchor="middle" fill="#000" >11</text>
<text x="505.5" y="1275.2" font-size="10.1" font-weight="bold" text-anchor="middle" fill="#000" >6</text>
</svg></body></html>
